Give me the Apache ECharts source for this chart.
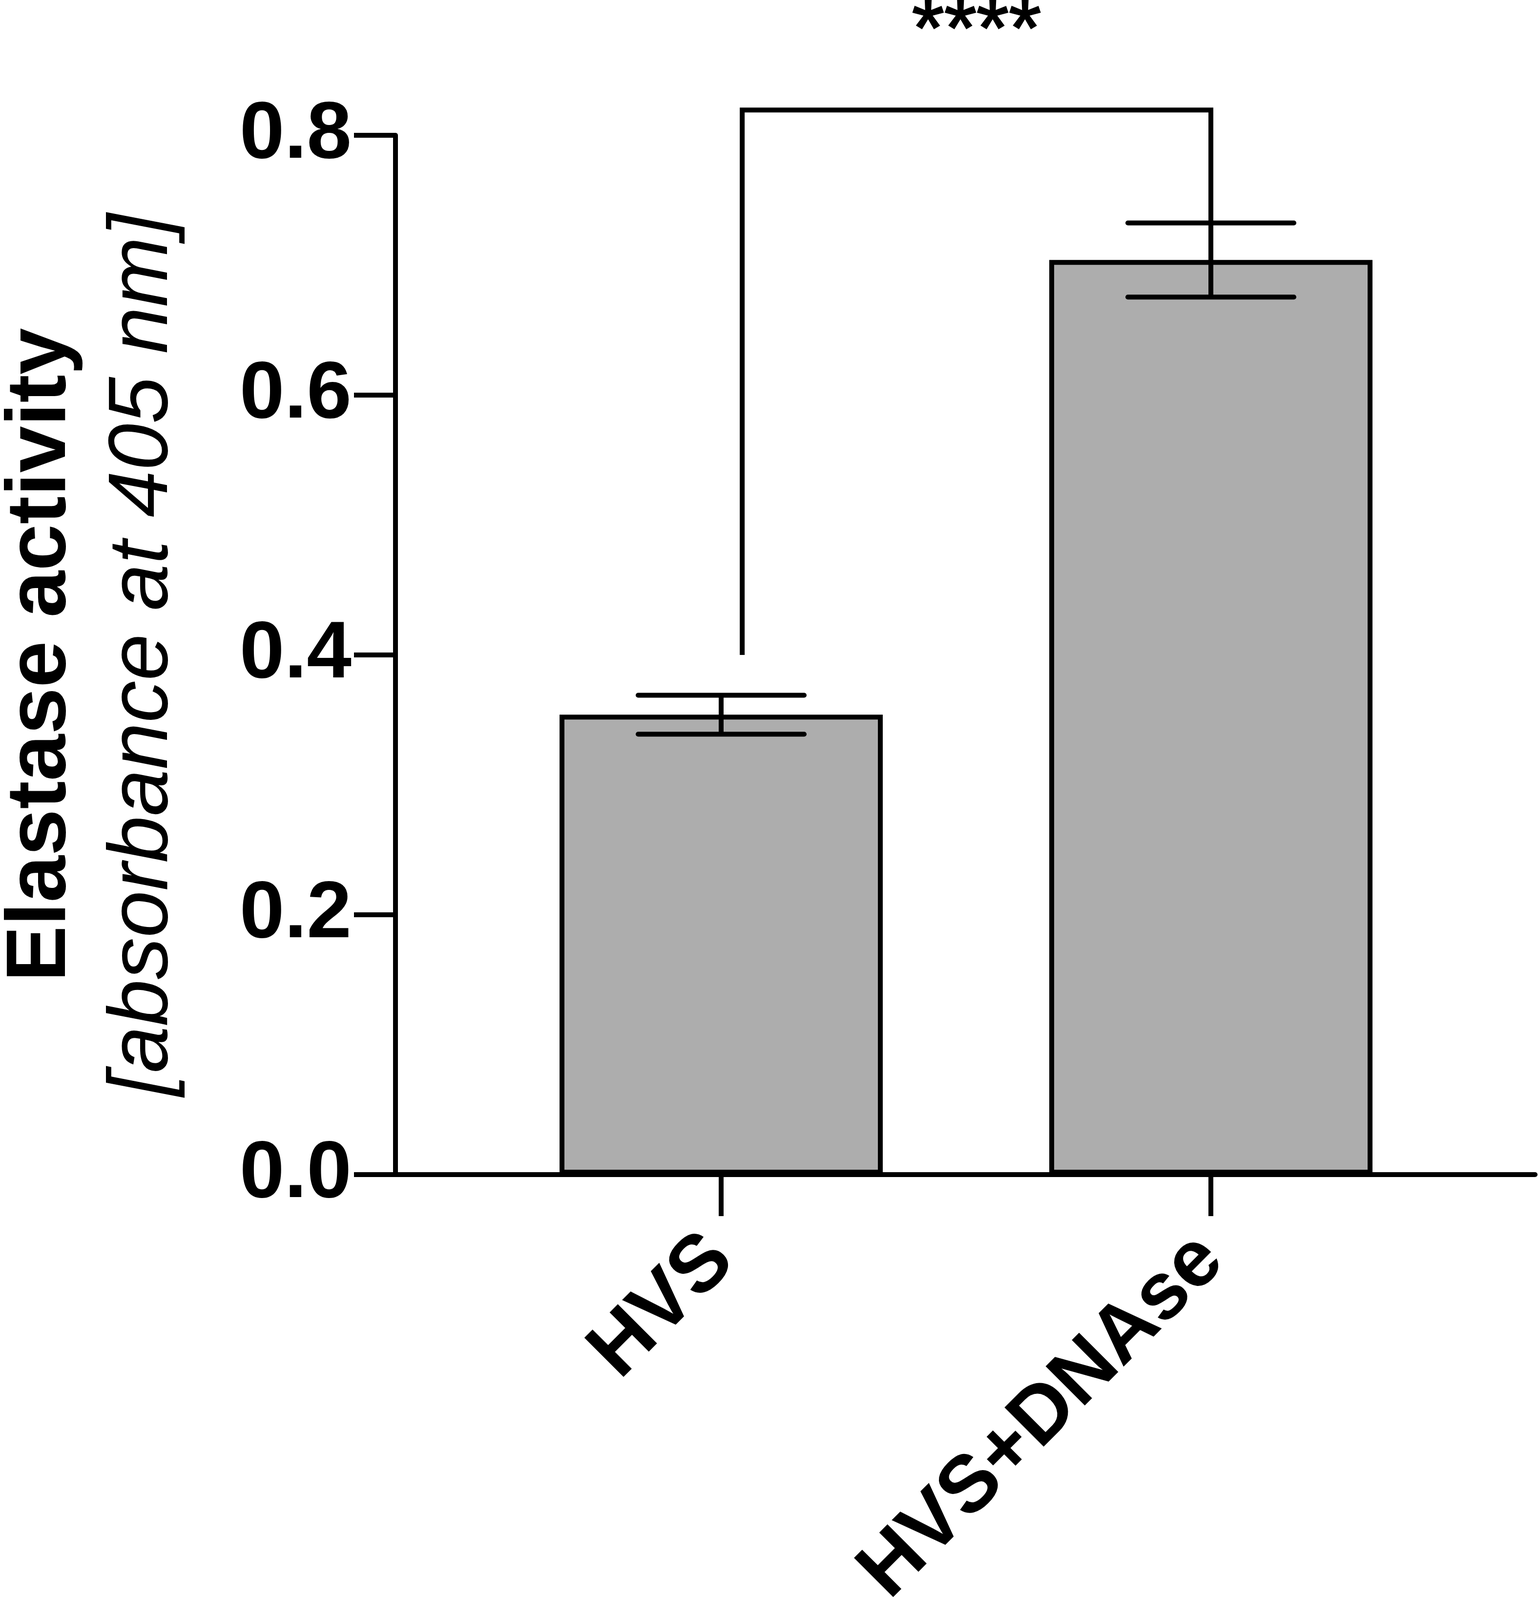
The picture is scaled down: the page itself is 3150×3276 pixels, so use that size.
<!DOCTYPE html>
<html>
<head>
<meta charset="utf-8">
<script src="https://cdn.jsdelivr.net/npm/echarts@6/dist/echarts.min.js"></script>
<style>html,body{margin:0;padding:0;background:#fff}#c{width:3150px;height:3276px}</style>
</head>
<body>
<div id="c"></div>
<script>
// ---- data ----
const categories = ['HVS', 'HVS+DNAse'];
const catPos = [0, 1];
const means = [0.354, 0.704];
const errors = [0.015, 0.0285];
const yTickValues = [0, 0.2, 0.4, 0.6, 0.8];
const bracketX = [0.043, 0.043, 1, 1];
const bracketY = [0.400, 0.8195, 0.8195, 0.7195];
const starLabel = '****';
const starPoint = [0.5215, 0.8195];

const FONT = 'Liberation Sans';
const chart = echarts.init(document.getElementById('c'), null, {renderer: 'canvas'});

const option = {
  animation: false,
  backgroundColor: '#ffffff',
  grid: {left: 810, right: 6, top: 277, bottom: 871, containLabel: false, outerBoundsMode: 'none'},
  xAxis: {
    type: 'value', min: -0.665, max: 1.662,
    splitLine: {show: false},
    axisLine: {show: true, onZero: false, lineStyle: {color: '#000', width: 10}},
    axisTick: {show: true, customValues: catPos, length: 85, lineStyle: {color: '#000', width: 10}},
    axisLabel: {
      show: true, customValues: catPos, rotate: 45, margin: 150, verticalAlign: 'middle',
      padding: [60, 0, 0, 0],
      formatter: v => categories[Math.round(v)] || '',
      fontSize: 165, fontWeight: 'bold', color: '#000', fontFamily: FONT
    }
  },
  yAxis: {
    type: 'value', min: 0, max: 0.8, interval: 0.2,
    splitLine: {show: false},
    axisLine: {show: true, onZero: false, lineStyle: {color: '#000', width: 10}},
    axisTick: {show: true, customValues: yTickValues, length: 85, lineStyle: {color: '#000', width: 10}},
    axisLabel: {
      margin: 90, formatter: v => Number(v).toFixed(1),
      fontSize: 165, fontWeight: 'bold', color: '#000', fontFamily: FONT
    },
    name: '{a|Elastase activity}\n{b|[absorbance at 405 nm]}',
    nameLocation: 'middle', nameRotate: 90, nameGap: 411,
    nameTextStyle: {
      color: '#000', fontFamily: FONT,
      rich: {
        a: {fontSize: 172, fontWeight: 'bold', lineHeight: 209, color: '#000', fontFamily: FONT},
        b: {fontSize: 172, fontStyle: 'italic', lineHeight: 209, color: '#000', fontFamily: FONT}
      }
    }
  },
  series: [
    {
      type: 'bar',
      data: means.map((m, i) => [catPos[i], m]),
      barWidth: 662,
      itemStyle: {color: '#adadad', borderColor: '#000', borderWidth: 10},
      z: 2
    },
    {
      type: 'custom',
      data: means.map((m, i) => [catPos[i], m - errors[i], m + errors[i]]),
      encode: {x: 0, y: [1, 2]},
      z: 10,
      clip: false,
      renderItem: function (params, api) {
        const x = api.value(0);
        const lo = api.coord([x, api.value(1)]);
        const hi = api.coord([x, api.value(2)]);
        const hw = 170;
        const st = {stroke: '#000', lineWidth: 10, lineCap: 'round'};
        return {
          type: 'group',
          children: [
            {type: 'line', shape: {x1: lo[0], y1: lo[1], x2: hi[0], y2: hi[1]}, style: {stroke: '#000', lineWidth: 10}},
            {type: 'line', shape: {x1: hi[0] - hw, y1: hi[1], x2: hi[0] + hw, y2: hi[1]}, style: st},
            {type: 'line', shape: {x1: lo[0] - hw, y1: lo[1], x2: lo[0] + hw, y2: lo[1]}, style: st}
          ]
        };
      }
    },
    {
      type: 'line',
      data: bracketX.map((x, i) => [x, bracketY[i]]),
      symbol: 'none', showSymbol: false, clip: false,
      lineStyle: {color: '#000', width: 10, join: 'miter', cap: 'butt'},
      z: 11
    },
    {
      type: 'scatter',
      data: [starPoint],
      symbolSize: 0, clip: false,
      itemStyle: {color: '#000', opacity: 1},
      label: {show: true, formatter: starLabel, position: 'top', distance: 70,
              fontSize: 170, color: '#000', opacity: 1, fontFamily: FONT,
              textBorderColor: '#000', textBorderWidth: 3},
      z: 12
    }
  ]
};
chart.setOption(option);
</script>
</body>
</html>
